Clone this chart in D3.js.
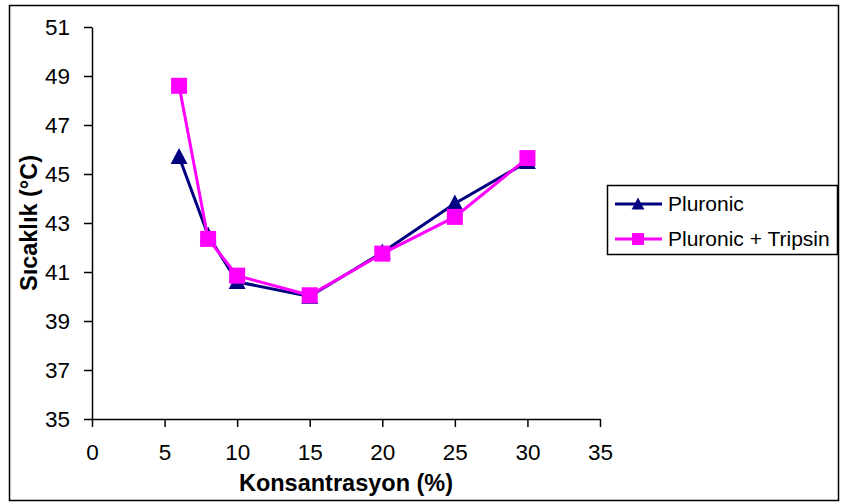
<!DOCTYPE html>
<html>
<head>
<meta charset="utf-8">
<script src="https://cdn.jsdelivr.net/npm/d3@7"></script>
<style>
  body { margin: 0; background: #fff; }
  svg text { font-family: "Liberation Sans", Arial, sans-serif; fill: #000; }
</style>
</head>
<body>
<div id="chart"></div>
<script>
// ========== Data ==========
const konsantrasyon = [6, 8, 10, 15, 20, 25, 30];
const pluronic = [45.7, 42.5, 40.6, 40.0, 41.8, 43.8, 45.5];
const pluronicTripsin = [48.6, 42.35, 40.85, 40.05, 41.75, 43.25, 45.65];
const xTicks = [0, 5, 10, 15, 20, 25, 30, 35];
const yTicks = [35, 37, 39, 41, 43, 45, 47, 49, 51];

const series = [
    { name: "Pluronic", values: pluronic, color: "#000080", marker: "triangle" },
    { name: "Pluronic + Tripsin", values: pluronicTripsin, color: "#FF00FF", marker: "square" }
];

// ========== Chart ==========
const width = 842, height = 504;
const plot = { left: 92, right: 600, top: 27, bottom: 419 };

const svg = d3.select("#chart").append("svg")
    .attr("width", width)
    .attr("height", height);

// outer frame
svg.append("rect")
    .attr("x", 9.5).attr("y", 5.5)
    .attr("width", 829).attr("height", 495)
    .attr("fill", "none")
    .attr("stroke", "#000")
    .attr("stroke-width", 1.5);

const x = d3.scaleLinear().domain([0, 35]).range([plot.left, plot.right]);
const y = d3.scaleLinear().domain([35, 51]).range([plot.bottom, plot.top]);

// X axis
const xAxis = svg.append("g")
    .attr("transform", `translate(0,${plot.bottom})`)
    .call(d3.axisBottom(x).tickValues(xTicks).tickSize(8).tickPadding(17).tickSizeOuter(0));
xAxis.select(".domain").attr("stroke-width", 1.5);
xAxis.selectAll(".tick line").attr("stroke-width", 1.5);
xAxis.selectAll("text").attr("font-size", 22.5);

// Y axis
const yAxis = svg.append("g")
    .attr("transform", `translate(${plot.left},0)`)
    .call(d3.axisLeft(y).tickValues(yTicks).tickSize(8).tickPadding(14).tickSizeOuter(0));
yAxis.select(".domain").attr("stroke-width", 1.5);
yAxis.selectAll(".tick line").attr("stroke-width", 1.5);
yAxis.selectAll("text").attr("font-size", 22.5);

// Axis titles
svg.append("text")
    .attr("x", (plot.left + plot.right) / 2)
    .attr("y", 491)
    .attr("text-anchor", "middle")
    .attr("font-size", 23.5)
    .attr("font-weight", "bold")
    .text("Konsantrasyon (%)");

svg.append("text")
    .attr("transform", `translate(37,${(plot.top + plot.bottom) / 2}) rotate(-90)`)
    .attr("text-anchor", "middle")
    .attr("font-size", 23.5)
    .attr("font-weight", "bold")
    .text("Sıcaklık (°C)");

// marker paths
function markerPath(type, s) {
    if (type === "triangle") {
        const h = s;
        return `M0,${-h * 0.55}L${s * 0.53},${h * 0.45}L${-s * 0.53},${h * 0.45}Z`;
    }
    return `M${-s / 2},${-s / 2}h${s}v${s}h${-s}Z`;
}

// Lines and markers
const line = d3.line()
    .x((d, i) => x(konsantrasyon[i]))
    .y(d => y(d));

series.forEach(s => {
    const g = svg.append("g");
    g.append("path")
        .datum(s.values)
        .attr("d", line)
        .attr("fill", "none")
        .attr("stroke", s.color)
        .attr("stroke-width", 3);
    g.selectAll("path.pt")
        .data(s.values)
        .enter().append("path")
        .attr("class", "pt")
        .attr("transform", (d, i) => `translate(${x(konsantrasyon[i])},${y(d)})`)
        .attr("d", markerPath(s.marker, 16))
        .attr("fill", s.color);
});

// ========== Legend ==========
const legend = svg.append("g");
legend.append("rect")
    .attr("x", 607.5).attr("y", 185.5)
    .attr("width", 230).attr("height", 69)
    .attr("fill", "#fff")
    .attr("stroke", "#000")
    .attr("stroke-width", 1.5);

series.forEach((s, i) => {
    const ly = 204 + i * 35;
    legend.append("line")
        .attr("x1", 615).attr("x2", 662)
        .attr("y1", ly).attr("y2", ly)
        .attr("stroke", s.color)
        .attr("stroke-width", 3);
    legend.append("path")
        .attr("transform", `translate(638,${ly})`)
        .attr("d", markerPath(s.marker, 12))
        .attr("fill", s.color);
    legend.append("text")
        .attr("x", 668).attr("y", ly)
        .attr("dy", "0.35em")
        .attr("font-size", 21)
        .text(s.name);
});
</script>
</body>
</html>
